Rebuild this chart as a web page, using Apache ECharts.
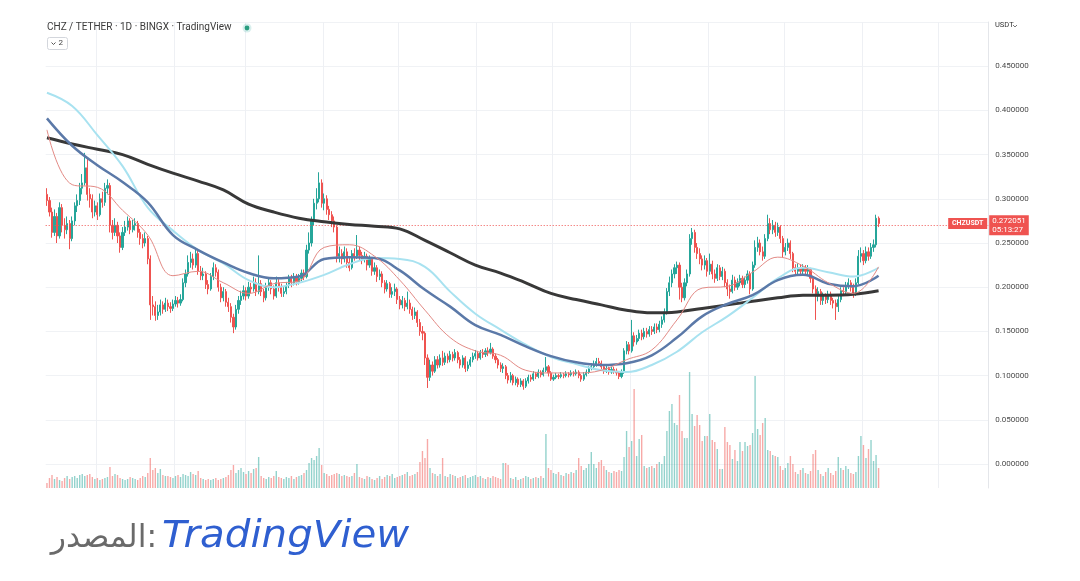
<!DOCTYPE html>
<html><head><meta charset="utf-8">
<script src="https://cdn.jsdelivr.net/npm/echarts@6/dist/echarts.min.js"></script>
<style>html,body{margin:0;padding:0;background:#fff;}#c{width:1080px;height:581px;}</style>
</head><body><div id="c"></div>
<script>
// ---- data (daily CHZ/USDT) ----
const startDate = [2021, 11, 12];   // 2021-12-12 (UTC, month 0-based)
const padDays = 43;                 // empty future slots to the right
const firstOpen = 0.305;
const closes = [
0.298,0.285,0.262,0.280,0.258,0.290,0.270,0.265,0.272,0.255,
0.275,0.292,0.298,0.312,0.318,0.335,0.305,0.300,0.285,0.292,
0.282,0.300,0.296,0.312,0.315,0.270,0.262,0.270,0.258,0.245,
0.262,0.268,0.275,0.265,0.270,0.272,0.262,0.255,0.250,0.255,
0.232,0.180,0.178,0.168,0.172,0.180,0.175,0.182,0.178,0.176,
0.181,0.185,0.182,0.186,0.205,0.215,0.228,0.232,0.225,0.238,
0.218,0.213,0.215,0.203,0.198,0.212,0.222,0.217,0.200,0.188,
0.195,0.183,0.178,0.166,0.155,0.175,0.185,0.190,0.196,0.190,
0.200,0.198,0.205,0.195,0.204,0.195,0.188,0.200,0.205,0.198,
0.190,0.205,0.200,0.193,0.195,0.202,0.210,0.205,0.212,0.206,
0.210,0.216,0.212,0.242,0.250,0.275,0.295,0.300,0.318,0.295,
0.300,0.288,0.282,0.275,0.268,0.235,0.238,0.232,0.240,0.228,
0.222,0.238,0.235,0.242,0.236,0.232,0.235,0.225,0.232,0.218,
0.222,0.212,0.215,0.205,0.198,0.204,0.192,0.195,0.198,0.186,
0.180,0.185,0.178,0.182,0.175,0.168,0.172,0.160,0.150,0.148,
0.120,0.098,0.112,0.105,0.118,0.112,0.120,0.115,0.122,0.118,
0.124,0.120,0.126,0.118,0.112,0.120,0.108,0.112,0.118,0.122,
0.125,0.120,0.126,0.124,0.128,0.126,0.130,0.122,0.118,0.112,
0.108,0.110,0.100,0.095,0.100,0.092,0.096,0.090,0.094,0.088,
0.094,0.098,0.096,0.102,0.099,0.104,0.101,0.106,0.110,0.103,
0.096,0.098,0.100,0.099,0.101,0.100,0.102,0.101,0.103,0.102,
0.104,0.100,0.096,0.101,0.104,0.108,0.110,0.113,0.116,0.114,
0.110,0.105,0.108,0.104,0.107,0.105,0.103,0.099,0.104,0.128,
0.135,0.128,0.145,0.138,0.142,0.148,0.144,0.150,0.147,0.152,
0.150,0.155,0.152,0.158,0.163,0.172,0.195,0.205,0.215,0.222,
0.225,0.200,0.188,0.205,0.215,0.255,0.262,0.245,0.238,0.232,
0.225,0.230,0.218,0.226,0.215,0.210,0.222,0.212,0.218,0.205,
0.198,0.195,0.208,0.200,0.205,0.210,0.203,0.208,0.215,0.198,
0.225,0.245,0.250,0.240,0.235,0.255,0.272,0.265,0.270,0.262,
0.268,0.255,0.240,0.245,0.250,0.238,0.222,0.218,0.222,0.218,
0.222,0.218,0.220,0.210,0.198,0.190,0.195,0.185,0.190,0.186,
0.192,0.185,0.182,0.178,0.186,0.196,0.195,0.202,0.205,0.200,
0.192,0.205,0.235,0.238,0.230,0.240,0.235,0.245,0.248,0.278,
0.272051];
const highs = [
0.312,0.302,0.290,0.288,0.284,0.296,0.294,0.278,0.280,0.276,
0.280,0.296,0.305,0.318,0.328,0.352,0.346,0.312,0.305,0.298,
0.296,0.306,0.308,0.318,0.322,0.318,0.276,0.278,0.274,0.262,
0.268,0.275,0.280,0.278,0.276,0.278,0.275,0.266,0.260,0.262,
0.258,0.236,0.190,0.184,0.180,0.186,0.184,0.188,0.186,0.183,
0.186,0.190,0.189,0.192,0.210,0.220,0.236,0.240,0.238,0.245,
0.242,0.224,0.222,0.218,0.208,0.216,0.228,0.226,0.220,0.204,
0.200,0.198,0.188,0.182,0.170,0.180,0.190,0.196,0.202,0.200,
0.206,0.205,0.212,0.210,0.236,0.208,0.198,0.205,0.210,0.208,
0.202,0.212,0.209,0.204,0.200,0.206,0.214,0.214,0.216,0.215,
0.215,0.220,0.220,0.248,0.262,0.280,0.300,0.312,0.330,0.322,
0.306,0.304,0.292,0.286,0.280,0.270,0.246,0.243,0.246,0.244,
0.234,0.242,0.244,0.259,0.246,0.240,0.240,0.238,0.236,0.234,
0.228,0.225,0.220,0.218,0.208,0.208,0.206,0.200,0.204,0.200,
0.190,0.190,0.188,0.195,0.186,0.178,0.177,0.174,0.164,0.156,
0.150,0.124,0.118,0.116,0.122,0.122,0.124,0.128,0.126,0.125,
0.128,0.127,0.130,0.128,0.121,0.123,0.122,0.116,0.121,0.126,
0.129,0.128,0.129,0.130,0.131,0.132,0.137,0.132,0.125,0.120,
0.115,0.114,0.112,0.103,0.104,0.102,0.099,0.098,0.097,0.096,
0.097,0.101,0.101,0.105,0.104,0.107,0.106,0.109,0.121,0.112,
0.105,0.101,0.103,0.102,0.104,0.103,0.105,0.104,0.106,0.105,
0.107,0.106,0.102,0.104,0.107,0.111,0.114,0.117,0.120,0.120,
0.117,0.112,0.111,0.110,0.110,0.110,0.108,0.105,0.107,0.131,
0.139,0.138,0.163,0.149,0.146,0.152,0.152,0.154,0.154,0.156,
0.156,0.159,0.159,0.162,0.167,0.176,0.199,0.212,0.220,0.226,
0.229,0.228,0.205,0.210,0.220,0.260,0.267,0.265,0.250,0.244,
0.236,0.236,0.233,0.238,0.230,0.220,0.226,0.225,0.223,0.221,
0.209,0.203,0.214,0.212,0.210,0.214,0.213,0.212,0.219,0.218,
0.229,0.253,0.257,0.254,0.246,0.260,0.282,0.278,0.276,0.274,
0.273,0.270,0.258,0.250,0.255,0.253,0.240,0.226,0.227,0.226,
0.226,0.225,0.225,0.222,0.213,0.202,0.200,0.198,0.194,0.193,
0.196,0.195,0.188,0.186,0.190,0.200,0.200,0.206,0.210,0.208,
0.204,0.210,0.242,0.245,0.242,0.246,0.245,0.250,0.254,0.282,
0.280];
const lows = [
0.292,0.280,0.256,0.258,0.250,0.255,0.262,0.255,0.260,0.243,
0.252,0.270,0.285,0.293,0.305,0.315,0.298,0.290,0.278,0.280,
0.276,0.280,0.290,0.292,0.305,0.262,0.254,0.258,0.250,0.239,
0.242,0.258,0.264,0.260,0.262,0.264,0.256,0.248,0.244,0.246,
0.226,0.163,0.168,0.162,0.163,0.168,0.170,0.172,0.173,0.171,
0.173,0.178,0.177,0.179,0.184,0.200,0.212,0.222,0.220,0.222,
0.214,0.208,0.208,0.198,0.192,0.196,0.208,0.212,0.195,0.183,
0.184,0.178,0.172,0.160,0.148,0.152,0.170,0.180,0.186,0.185,
0.187,0.193,0.195,0.190,0.192,0.190,0.183,0.185,0.196,0.192,
0.186,0.188,0.195,0.189,0.189,0.192,0.199,0.200,0.202,0.202,
0.203,0.207,0.208,0.210,0.238,0.246,0.270,0.288,0.296,0.290,
0.287,0.282,0.276,0.268,0.262,0.228,0.228,0.226,0.228,0.222,
0.218,0.220,0.230,0.232,0.230,0.226,0.228,0.219,0.222,0.213,
0.214,0.206,0.208,0.200,0.193,0.195,0.188,0.188,0.190,0.181,
0.175,0.176,0.173,0.175,0.170,0.163,0.164,0.155,0.145,0.140,
0.112,0.086,0.094,0.100,0.103,0.108,0.109,0.111,0.112,0.114,
0.115,0.116,0.117,0.114,0.108,0.109,0.104,0.105,0.110,0.115,
0.119,0.117,0.118,0.120,0.121,0.122,0.124,0.119,0.114,0.108,
0.104,0.103,0.096,0.091,0.092,0.089,0.089,0.087,0.087,0.084,
0.086,0.091,0.093,0.094,0.096,0.097,0.098,0.099,0.104,0.099,
0.094,0.094,0.096,0.096,0.097,0.097,0.098,0.098,0.099,0.099,
0.100,0.097,0.093,0.094,0.099,0.102,0.106,0.107,0.110,0.111,
0.107,0.102,0.103,0.101,0.102,0.102,0.100,0.096,0.097,0.102,
0.124,0.124,0.126,0.133,0.135,0.139,0.140,0.141,0.143,0.144,
0.146,0.147,0.148,0.149,0.154,0.160,0.169,0.190,0.200,0.210,
0.215,0.186,0.183,0.185,0.201,0.212,0.248,0.239,0.232,0.226,
0.219,0.220,0.212,0.214,0.209,0.205,0.207,0.208,0.208,0.200,
0.190,0.187,0.193,0.196,0.197,0.201,0.199,0.199,0.204,0.192,
0.196,0.222,0.240,0.236,0.230,0.232,0.252,0.260,0.260,0.257,
0.258,0.250,0.234,0.236,0.241,0.232,0.217,0.214,0.214,0.213,
0.214,0.213,0.214,0.205,0.193,0.163,0.184,0.180,0.180,0.181,
0.182,0.180,0.176,0.163,0.172,0.183,0.190,0.191,0.198,0.195,
0.188,0.190,0.203,0.228,0.225,0.227,0.230,0.232,0.240,0.245,
0.268];
// volume, relative units
const volumes = [
5,10,13,9,11,8,7,10,12,9, 11,12,10,13,14,12,13,14,11,9,
10,8,9,10,11,21,12,14,13,10, 9,8,9,11,10,9,8,10,12,11,
15,30,18,20,15,19,13,12,12,11, 10,12,13,11,14,13,12,16,14,13,
17,10,9,8,9,8,9,10,8,9, 10,11,13,18,23,15,18,20,16,14,
17,15,19,20,31,12,10,9,11,10, 12,17,11,10,9,11,10,12,9,11,
12,13,15,18,25,30,28,32,40,23, 15,14,12,13,14,15,14,12,13,12,
11,12,15,24,11,10,9,12,11,9, 8,10,12,9,11,13,12,14,10,11,
12,13,14,16,12,13,14,16,26,37, 30,49,20,15,14,12,14,30,12,11,
14,13,12,10,11,12,13,10,11,12, 13,11,12,10,9,11,10,12,11,10,
9,25,25,23,10,9,11,8,9,10, 12,11,9,10,11,10,12,10,54,20,
18,15,14,16,13,12,15,14,16,15, 18,30,22,18,20,24,36,24,20,26,
28,22,18,16,15,17,16,18,17,31, 57,41,47,99,32,49,53,22,20,21,
22,20,24,26,24,32,57,77,84,65, 63,93,57,50,50,116,74,62,73,63,
47,52,52,74,48,46,39,19,19,61, 46,43,29,38,27,46,37,46,42,43,
55,112,59,53,65,70,38,37,33,32, 31,22,18,20,25,32,24,16,14,18,
20,15,14,17,34,38,18,14,12,16, 20,15,13,17,31,20,18,22,19,15,
14,16,32,52,43,30,39,48,27,33, 20];
// moving averages, read at every 10th candle
const maIdx = [0,10,20,30,40,50,60,70,80,90,100,110,120,130,140,150,160,170,180,190,200,210,220,230,240,250,260,270,280,290,300,310,320,330];
const maFast = [0.378,0.316,0.313,0.287,0.259,0.213,0.218,0.205,0.193,0.204,0.207,0.245,0.248,0.235,0.208,0.174,0.143,0.128,0.123,0.106,0.103,0.103,0.106,0.118,0.129,0.163,0.199,0.201,0.217,0.234,0.224,0.205,0.193,0.223];
const maLight = [0.420,0.405,0.372,0.337,0.290,0.264,0.242,0.227,0.208,0.200,0.205,0.214,0.226,0.233,0.232,0.223,0.195,0.170,0.152,0.135,0.121,0.113,0.106,0.104,0.112,0.127,0.149,0.167,0.188,0.210,0.222,0.217,0.212,0.222];
const maMid = [0.391,0.360,0.338,0.319,0.296,0.259,0.242,0.228,0.216,0.210,0.212,0.232,0.234,0.233,0.219,0.197,0.178,0.157,0.146,0.133,0.122,0.115,0.112,0.114,0.123,0.143,0.167,0.181,0.191,0.208,0.214,0.204,0.201,0.213];
const maSlow = [0.369,0.362,0.356,0.350,0.339,0.329,0.320,0.310,0.294,0.285,0.278,0.274,0.271,0.269,0.266,0.253,0.239,0.225,0.216,0.205,0.193,0.186,0.180,0.174,0.171,0.172,0.176,0.180,0.184,0.188,0.191,0.191,0.192,0.196];
const lastPrice = 0.272051;
const countdown = '05:13:27';
const title = 'CHZ / TETHER · 1D · BINGX · TradingView';
const symbol = 'CHZUSDT';
const quote = 'USDT';

// ---- build ----
const categories = [];
const t0 = Date.UTC(startDate[0], startDate[1], startDate[2]);
for (let i = 0; i < closes.length + padDays; i++) {
  categories.push(new Date(t0 + i * 86400000).toISOString().slice(0, 10));
}
const candles = closes.map((c, i) => [i === 0 ? firstOpen : closes[i - 1], c, lows[i], highs[i]]);
const UP = '#26a69a', DOWN = '#ef5350';
const volData = volumes.map((v, i) => ({
  value: v,
  itemStyle: { color: candles[i][1] >= candles[i][0] ? 'rgba(38,166,154,0.5)' : 'rgba(239,83,80,0.5)' }
}));
const pairs = arr => maIdx.map((x, k) => [x, arr[k]]);
const mkLine = (arr, color, width) => ({
  type: 'line', xAxisIndex: 0, yAxisIndex: 0, data: pairs(arr), smooth: 0.4,
  showSymbol: false, silent: true, z: 5, lineStyle: { color, width }
});

const L = 45.7, R = 91.8;
const chart = echarts.init(document.getElementById('c'));
chart.setOption({
  animation: false,
  backgroundColor: '#ffffff',
  grid: [
    { left: L, right: R, top: 22, bottom: 72.8 },
    { left: L, right: R, top: 22, bottom: 93 }
  ],
  xAxis: [
    { gridIndex: 0, type: 'category', data: categories, boundaryGap: true, show: false },
    { gridIndex: 1, type: 'category', data: categories, boundaryGap: true,
      axisLine: { show: false }, axisTick: { show: false }, axisLabel: { show: false },
      splitLine: { show: true, interval: (i, v) => v.slice(8) === '01', lineStyle: { color: '#eef0f4', width: 1 } } }
  ],
  yAxis: [
    { gridIndex: 0, type: 'value', position: 'right', min: -0.05, max: 0.5, interval: 0.05,
      axisLine: { show: false }, axisTick: { show: false },
      axisLabel: { formatter: v => (v < -1e-9 || v > 0.46) ? '' : v.toFixed(6), color: '#4a4a4a', fontSize: 8, fontFamily: 'Roboto', margin: 7 },
      splitLine: { show: true, showMinLine: false, lineStyle: { color: '#f0f2f5', width: 1 } } },
    { gridIndex: 1, type: 'value', position: 'right', min: 0, max: 466,
      axisLine: { show: true, lineStyle: { color: '#e4e6ea', width: 1 } }, axisTick: { show: false },
      axisLabel: { show: false }, splitLine: { show: false } }
  ],
  series: [
    { type: 'bar', xAxisIndex: 1, yAxisIndex: 1, data: volData, barWidth: '55%', silent: true, z: 1 },
    { type: 'candlestick', xAxisIndex: 0, yAxisIndex: 0, data: candles, barWidth: '65%', z: 3, silent: true,
      itemStyle: { color: UP, color0: DOWN, borderColor: UP, borderColor0: DOWN, borderWidth: 1 },
      markLine: { silent: true, symbol: 'none', animation: false,
        lineStyle: { color: DOWN, type: [1, 2], width: 1 },
        label: { show: true, position: 'end', distance: 1, formatter: lastPrice.toFixed(6) + '\n' + countdown,
          backgroundColor: DOWN, color: '#fff', fontSize: 8, fontFamily: 'Roboto', lineHeight: 9.5, padding: [1, 3, 0, 3] },
        data: [{ yAxis: lastPrice }] } },
    mkLine(maSlow, '#383838', 3),
    mkLine(maLight, '#a8e2f0', 2),
    mkLine(maMid, '#5b79a8', 2.5),
    mkLine(maFast, '#e38a85', 1)
  ]
});

const py = chart.convertToPixel({ yAxisIndex: 0 }, lastPrice);
const axisX = 1080 - R;
chart.setOption({
  graphic: [
    { type: 'text', left: 47, top: 22, style: { text: title, font: '10px Roboto', fill: '#3a3a3a' } },
    { type: 'circle', shape: { cx: 247, cy: 28, r: 4.5 }, style: { fill: 'rgba(38,166,154,0.18)' } },
    { type: 'circle', shape: { cx: 247, cy: 28, r: 2.4 }, style: { fill: '#2a9d7f' } },
    { type: 'rect', shape: { x: 47.5, y: 37.5, width: 20, height: 12, r: 2 }, style: { fill: '#fff', stroke: '#d3d6dc', lineWidth: 1 } },
    { type: 'polyline', shape: { points: [[51.5, 42.5], [53.5, 44.5], [55.5, 42.5]] }, style: { stroke: '#555', lineWidth: 1, fill: null } },
    { type: 'text', left: 58.5, top: 39, style: { text: '2', font: '8px Roboto', fill: '#444' } },
    { type: 'text', left: 995, top: 21, style: { text: quote, font: '7.5px Roboto', fill: '#333' } },
    { type: 'polyline', shape: { points: [[1013, 25], [1015, 27], [1017, 25]] }, style: { stroke: '#555', lineWidth: 0.8, fill: null } },
    { type: 'rect', shape: { x: axisX - 40, y: py - 5.5, width: 39, height: 11 }, style: { fill: DOWN }, z: 20 },
    { type: 'text', z: 21, style: { text: symbol, x: axisX - 20.5, y: py, font: 'bold 7px Roboto', fill: '#fff', textAlign: 'center', textVerticalAlign: 'middle', align: 'center', verticalAlign: 'middle' } },
    { type: 'text', style: { text: 'المصدر:', x: 157, y: 539, font: '31.5px "DejaVu Sans"', fill: '#6a6a6a', textAlign: 'right', textVerticalAlign: 'middle', align: 'right', verticalAlign: 'middle' } },
    { type: 'text', x: 162, y: 537, scaleX: 1.09, style: { text: 'TradingView', x: 0, y: 0, font: 'oblique 37px "DejaVu Sans"', fill: '#2f5fd0', textAlign: 'left', textVerticalAlign: 'middle', align: 'left', verticalAlign: 'middle' } }
  ]
});
</script>
</body></html>
